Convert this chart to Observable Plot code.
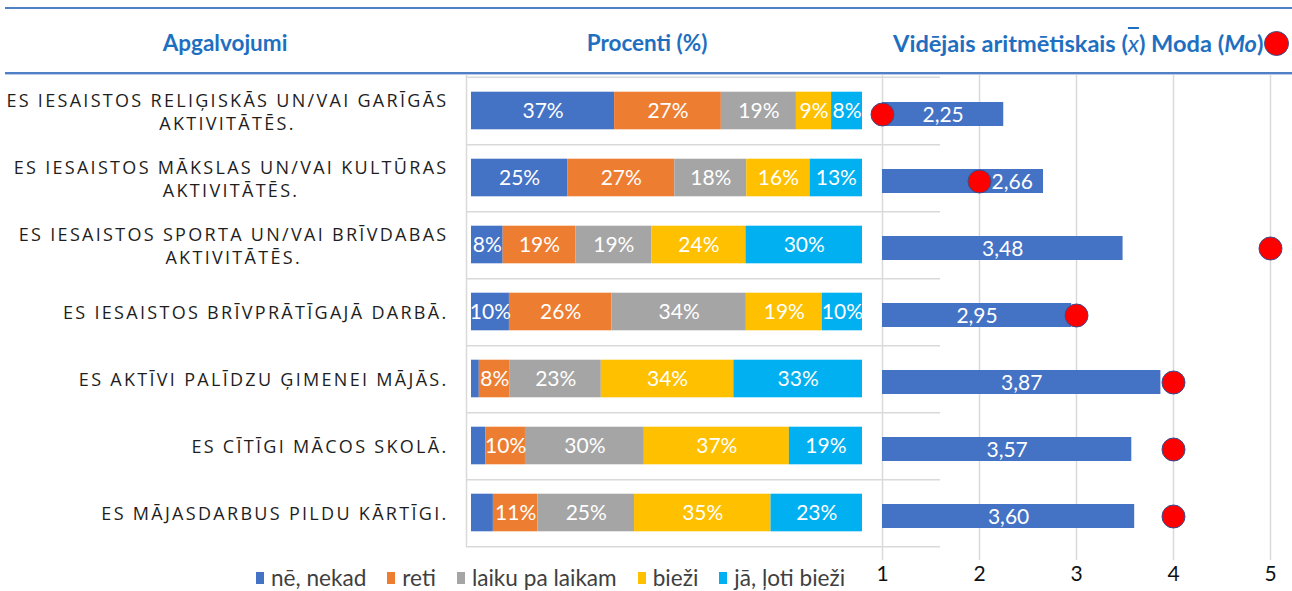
<!DOCTYPE html>
<html><head><meta charset="utf-8">
<script src="https://cdn.jsdelivr.net/npm/d3@7"></script>
<script src="https://cdn.jsdelivr.net/npm/@observablehq/plot@0.6"></script>
<style>
body{margin:0;background:#fff;}
#root{position:relative;width:1292px;height:591px;overflow:hidden;font-family:Lato,sans-serif;}
#root svg{position:absolute;left:0;top:0;overflow:visible;background:transparent;}
.hline{position:absolute;left:5px;right:0;height:2px;background:#4f80c6;}
.head{position:absolute;top:29px;font-weight:bold;font-size:22.5px;line-height:28px;color:#1f6fc1;white-space:nowrap;transform:translateX(-50%);}
.mo{display:inline-block;width:23px;height:23px;border-radius:50%;background:#ff0000;border:1px solid #3a4f8a;vertical-align:middle;margin-left:1px;position:relative;top:-2px;}
#legend{position:absolute;top:564px;left:256px;display:flex;font-size:22.6px;line-height:28px;color:#404040;white-space:nowrap;}
#legend .it{display:flex;align-items:center;margin-right:21px;}
#legend .sw{display:inline-block;width:8px;height:12px;margin-right:7px;}
</style></head>
<body><div id="root"></div>
<script>
const statements = [
  "ES IESAISTOS RELIĢISKĀS UN/VAI GARĪGĀS\nAKTIVITĀTĒS.",
  "ES IESAISTOS MĀKSLAS UN/VAI KULTŪRAS\nAKTIVITĀTĒS.",
  "ES IESAISTOS SPORTA UN/VAI BRĪVDABAS\nAKTIVITĀTĒS.",
  "ES IESAISTOS BRĪVPRĀTĪGAJĀ DARBĀ.",
  "ES AKTĪVI PALĪDZU ĢIMENEI MĀJĀS.",
  "ES CĪTĪGI MĀCOS SKOLĀ.",
  "ES MĀJASDARBUS PILDU KĀRTĪGI."
];
const categories = ["nē, nekad", "reti", "laiku pa laikam", "bieži", "jā, ļoti bieži"];
const colors = ["#4472C4", "#ED7D31", "#A5A5A5", "#FFC000", "#00B0F0"];
const neNekad       = [36.6, 24.6,  8.1,  9.7,  2.0,  3.7,  5.6];
const reti          = [27.3, 27.4, 18.6, 26.2,  7.9, 10.1, 11.4];
const laikuPaLaikam = [19.2, 18.4, 19.4, 34.4, 23.3, 30.4, 24.7];
const biezi         = [ 9.0, 16.2, 24.1, 19.4, 33.9, 37.1, 34.9];
const jaLotiBiezi   = [ 7.9, 13.4, 29.8, 10.3, 32.9, 18.7, 23.4];
const means = [2.25, 2.66, 3.48, 2.95, 3.87, 3.57, 3.60];
const modes = [1, 2, 5, 3, 4, 4, 4];
const meanTicks = [1, 2, 3, 4, 5];
const headers = ["Apgalvojumi", "Procenti (%)"];

const series = [neNekad, reti, laikuPaLaikam, biezi, jaLotiBiezi];
const rows = statements.flatMap((s, i) => series.map((arr, k) => ({statement: s, cat: categories[k], value: arr[i]})));
const meanData = statements.map((s, i) => ({statement: s, mean: means[i], mode: modes[i]}));
// a mean label that would sit under its mode dot is moved to the right of the dot
meanData.forEach(d => { d.mid = (1 + d.mean) / 2; d.shift = Math.abs(d.mid - d.mode) < 0.4; });

const root = document.getElementById("root");
const W = 1292, H = 591, TOP = 75, BOT = 547;
const step = (BOT - TOP) / statements.length;
const yScale = {type: "band", domain: statements, range: [TOP, BOT], padding: 0, axis: null};

// header
const l1 = document.createElement("div"); l1.className = "hline"; l1.style.top = "7px"; root.appendChild(l1);
const l2 = document.createElement("div"); l2.className = "hline"; l2.style.top = "72px"; root.appendChild(l2);
const l3 = document.createElement("div"); l3.className = "hline"; l3.style.top = "74px"; l3.style.height = "1px"; l3.style.background = "#b9cbe8"; root.appendChild(l3);
[[headers[0], 225], [headers[1], 647]].forEach(([t, x]) => {
  const d = document.createElement("div"); d.className = "head"; d.textContent = t; d.style.left = x + "px"; root.appendChild(d);
});
const h3 = document.createElement("div"); h3.className = "head"; h3.style.left = "893px"; h3.style.transform = "none"; h3.style.fontSize = "23.6px";
h3.innerHTML = 'Vidējais aritmētiskais (<i style="text-decoration:overline;font-weight:normal">x</i>) Moda (<i>Mo</i>)<span class="mo"></span>';
root.appendChild(h3);

// left labels: lines centered within a right-aligned block
const LS = 2.3, FS = 18;
const ctx = document.createElement("canvas").getContext("2d");
ctx.font = FS + "px 'Open Sans'"; ctx.letterSpacing = LS + "px";
const labelData = statements.map(s => ({statement: s, w: Math.max(...s.split("\n").map(t => ctx.measureText(t).width))}));
const RIGHT_EDGE = 448;
root.appendChild(Plot.plot({
  width: 460, height: H, marginTop: TOP, marginBottom: H - BOT, marginLeft: 0, marginRight: 0,
  x: {type: "identity", axis: null}, y: yScale,
  style: {fontFamily: "'Open Sans'", fontSize: FS + "px", letterSpacing: LS + "px", background: "transparent"},
  marks: [
    Plot.text(labelData, {x: d => RIGHT_EDGE - d.w / 2, y: "statement", text: "statement", textAnchor: "middle", lineHeight: 1.28, fill: "#1e1e1e", fontSize: FS})
  ]
}));

// middle stacked bars
root.appendChild(Plot.plot({
  width: W, height: H, marginTop: TOP, marginBottom: H - BOT, marginLeft: 466, marginRight: W - 940,
  x: {domain: [0, 100], range: [471, 862], axis: null}, y: yScale,
  color: {domain: categories, range: colors},
  style: {fontFamily: "Lato", background: "transparent"},
  marks: [
    Plot.ruleY(statements, {y: d => d, dy: step / 2, stroke: "#d9d9d9", strokeWidth: 1.5}),
    Plot.ruleY(statements.slice(0, 1), {y: d => d, dy: -step / 2, stroke: "#d9d9d9", strokeWidth: 1.5}),
    Plot.ruleX([0], {dx: -5, stroke: "#d9d9d9", strokeWidth: 1.5}),
    Plot.barX(rows, Plot.stackX({x: "value", y: "statement", fill: "cat", order: categories, insetTop: 14.7, insetBottom: 14.7})),
    Plot.text(rows, Plot.stackX({x: "value", y: "statement", z: "cat", order: categories, text: d => d.value >= 7 ? Math.round(d.value) + "%" : "", fill: "white", fontSize: 21}))
  ]
}));

// right: mean bars + mode dots
const fmt = d => d.mean.toFixed(2).replace(".", ",");
root.appendChild(Plot.plot({
  width: W, height: H, marginTop: TOP, marginBottom: 31, marginLeft: 882, marginRight: W - 1270,
  x: {domain: [1, 5], range: [882, 1270]}, y: yScale,
  style: {fontFamily: "Lato", fontSize: "21px", background: "transparent"},
  marks: [
    Plot.ruleX(meanTicks, {stroke: "#d9d9d9", strokeWidth: 1.5}),
    Plot.axisX(meanTicks, {tickSize: 0, tickPadding: 6, label: null, fill: "#111", fontSize: 21}),
    Plot.barX(meanData, {x1: 1, x2: "mean", y: "statement", fill: "#4472C4", insetTop: 25, insetBottom: 18}),
    Plot.text(meanData.filter(d => !d.shift), {x: "mid", y: "statement", dy: 4, text: fmt, fill: "white", fontSize: 21}),
    Plot.text(meanData.filter(d => d.shift), {x: "mode", y: "statement", dy: 4, dx: 12, textAnchor: "start", text: fmt, fill: "white", fontSize: 21}),
    Plot.dot(meanData, {x: "mode", y: "statement", dy: 3.5, r: 11.5, fill: "#ff0000", stroke: "#34508f", strokeWidth: 1})
  ]
}));

// legend
const lg = document.createElement("div"); lg.id = "legend";
categories.forEach((c, i) => {
  const it = document.createElement("div"); it.className = "it";
  it.innerHTML = `<span class="sw" style="background:${colors[i]}"></span><span>${c}</span>`;
  lg.appendChild(it);
});
root.appendChild(lg);
</script>
</body></html>
